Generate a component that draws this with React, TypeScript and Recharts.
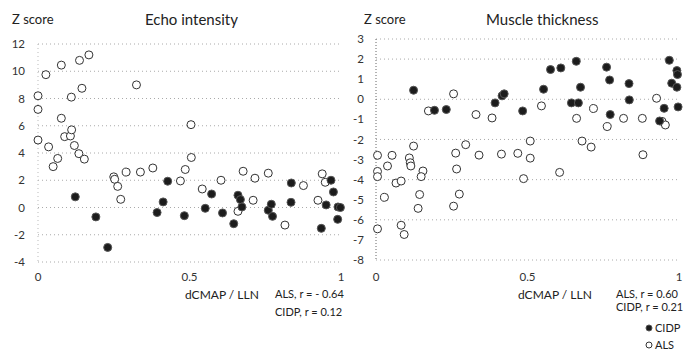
import { CartesianGrid, Scatter, ScatterChart, XAxis, YAxis } from "recharts";

// dCMAP / LLN vs Z score
const echoALS: [number, number][] = [
  [0.0, 8.2], [0.0, 7.2], [0.0, 4.95], [0.026, 9.75], [0.035, 4.45], [0.05, 3.0],
  [0.065, 3.6], [0.077, 10.45], [0.077, 6.55], [0.088, 5.2], [0.107, 5.25], [0.111, 5.7],
  [0.11, 8.1], [0.12, 4.55], [0.135, 3.95], [0.153, 3.55], [0.137, 10.8], [0.145, 8.75],
  [0.168, 11.2], [0.325, 9.0], [0.25, 2.25], [0.253, 2.07], [0.263, 1.55], [0.273, 0.6],
  [0.291, 2.6], [0.338, 2.6], [0.379, 2.9], [0.47, 1.95], [0.505, 6.08], [0.506, 3.67],
  [0.486, 2.79], [0.542, 1.36], [0.604, 2.0], [0.677, 2.66], [0.716, 2.15], [0.76, 2.52],
  [0.71, 0.53], [0.66, -0.28], [0.815, -1.29], [0.876, 1.61], [0.938, 2.47], [0.948, 1.85],
  [0.924, 0.53],
];

const echoCIDP: [number, number][] = [
  [0.123, 0.78], [0.191, -0.69], [0.23, -2.93], [0.393, -0.37], [0.413, 0.41], [0.428, 1.93],
  [0.483, -0.6], [0.552, -0.06], [0.573, 0.99], [0.609, -0.4], [0.646, -1.19], [0.66, 0.9],
  [0.668, 0.58], [0.673, 0.04], [0.76, -0.2], [0.77, 0.24], [0.774, -0.65], [0.836, 1.8],
  [0.835, 0.38], [0.935, -1.53], [0.951, 0.19], [0.967, 2.0], [0.975, 1.14], [0.99, 0.04],
  [0.989, -0.87], [0.998, 0.0],
];

const thickALS: [number, number][] = [
  [0.005, -2.79], [0.005, -3.59], [0.005, -3.85], [0.005, -6.45], [0.038, -3.32], [0.028, -4.88],
  [0.053, -2.79], [0.066, -4.17], [0.083, -4.07], [0.083, -6.27], [0.093, -6.73], [0.11, -2.92],
  [0.113, -3.16], [0.115, -3.32], [0.124, -2.33], [0.155, -3.57], [0.149, -3.85], [0.144, -4.74],
  [0.139, -5.43], [0.173, -0.58], [0.256, 0.27], [0.263, -2.68], [0.266, -3.47], [0.275, -4.72],
  [0.256, -5.32], [0.296, -2.26], [0.33, -0.76], [0.34, -2.78], [0.383, -0.93], [0.414, -2.73],
  [0.468, -2.69], [0.487, -3.95], [0.509, -2.08], [0.509, -2.93], [0.546, -0.33], [0.606, -3.64],
  [0.662, -0.95], [0.68, -2.08], [0.71, -2.38], [0.718, -0.46], [0.763, -1.36], [0.817, -0.95],
  [0.879, -0.95], [0.881, -2.76], [0.926, 0.05], [0.944, -1.1], [0.955, -1.28],
];

const thickCIDP: [number, number][] = [
  [0.124, 0.45], [0.193, -0.55], [0.232, -0.51], [0.393, -0.18], [0.416, 0.17], [0.423, 0.27],
  [0.484, -0.58], [0.553, 0.5], [0.576, 1.48], [0.61, 1.56], [0.645, -0.18], [0.668, -0.18],
  [0.661, 1.89], [0.675, 0.6], [0.761, 1.6], [0.771, 0.96], [0.773, -0.76], [0.835, 0.78],
  [0.836, -0.03], [0.936, -1.08], [0.951, -0.45], [0.968, 1.94], [0.976, 0.8], [0.993, 0.6],
  [0.993, 1.43], [0.995, 1.23], [0.997, -0.38],
];

const xTicks = [0, 0.5, 1];
const echoTicks = [-4, -2, 0, 2, 4, 6, 8, 10, 12];
const thickTicks = [3, 2, 1, 0, -1, -2, -3, -4, -5, -6, -7, -8];

const FONT = "Lato, 'Open Sans', sans-serif";
const tickStyle = { fontSize: 11.5, fill: "#333", fontFamily: FONT };

const toPoints = (arr: [number, number][]) => arr.map(([x, y]) => ({ x, y }));

const openDot = (p: any) => (
  <circle cx={p.cx} cy={p.cy} r={4} fill="#fff" stroke="#333" strokeWidth={1} />
);
const filledDot = (p: any) => (
  <circle cx={p.cx} cy={p.cy} r={4} fill="#1c1c1c" stroke="#555" strokeWidth={1} />
);

const txt = (left: number, top: number, size: number, content: string) => (
  <div
    style={{
      position: "absolute",
      left,
      top,
      fontSize: size,
      lineHeight: 1,
      color: "#222",
      fontFamily: FONT,
      whiteSpace: "nowrap",
    }}
  >
    {content}
  </div>
);

export default function App() {
  return (
    <div
      style={{
        position: "absolute",
        left: 0,
        top: 0,
        width: 687,
        height: 355,
        background: "#fff",
        overflow: "hidden",
      }}
    >
      <div style={{ position: "absolute", left: 0, top: 0 }}>
        <ScatterChart width={350} height={292} margin={{ top: 44, right: 9, bottom: 0, left: 0 }}>
          <CartesianGrid vertical={false} stroke="#aaa" strokeDasharray="1 3" />
          <XAxis
            type="number"
            dataKey="x"
            domain={[0, 1]}
            ticks={xTicks}
            tick={tickStyle}
            axisLine={false}
            tickLine={false}
            tickSize={6}
            tickMargin={5}
            height={30}
          />
          <YAxis
            type="number"
            dataKey="y"
            domain={[-4, 12]}
            ticks={echoTicks}
            tick={tickStyle}
            axisLine={{ stroke: "#bbb", strokeDasharray: "1 3" }}
            tickLine={false}
            tickSize={6}
            tickMargin={7}
            width={38}
          />
          <Scatter data={toPoints(echoALS)} shape={openDot} isAnimationActive={false} />
          <Scatter data={toPoints(echoCIDP)} shape={filledDot} isAnimationActive={false} />
        </ScatterChart>
      </div>

      <div style={{ position: "absolute", left: 340, top: 0 }}>
        <ScatterChart width={347} height={290} margin={{ top: 39, right: 8, bottom: 0, left: 0 }}>
          <CartesianGrid vertical={false} stroke="#aaa" strokeDasharray="1 3" />
          <XAxis
            type="number"
            dataKey="x"
            domain={[0, 1]}
            ticks={xTicks}
            tick={tickStyle}
            axisLine={false}
            tickLine={false}
            tickSize={6}
            tickMargin={7}
            height={30}
          />
          <YAxis
            type="number"
            dataKey="y"
            domain={[-8, 3]}
            ticks={thickTicks}
            tick={tickStyle}
            axisLine={{ stroke: "#666", strokeDasharray: "1 2" }}
            tickLine={false}
            tickSize={6}
            tickMargin={6}
            width={36}
          />
          <Scatter data={toPoints(thickALS)} shape={openDot} isAnimationActive={false} />
          <Scatter data={toPoints(thickCIDP)} shape={filledDot} isAnimationActive={false} />
        </ScatterChart>
      </div>

      {txt(12, 13, 13, "Z score")}
      {txt(145, 12, 15, "Echo intensity")}
      {txt(185, 289, 12, "dCMAP / LLN")}
      {txt(275, 288, 11, "ALS, r = - 0.64")}
      {txt(275, 306, 11, "CIDP, r = 0.12")}

      {txt(364, 13, 13, "Z score")}
      {txt(486, 12, 15, "Muscle thickness")}
      {txt(518, 289, 12, "dCMAP / LLN")}
      {txt(616, 288, 11, "ALS, r = 0.60")}
      {txt(616, 301, 11, "CIDP, r =  0.21")}

      <svg style={{ position: "absolute", left: 644, top: 320 }} width={12} height={32}>
        <circle cx={5} cy={8} r={3} fill="#1c1c1c" stroke="#555" />
        <circle cx={5} cy={25} r={3} fill="#fff" stroke="#333" />
      </svg>
      {txt(655, 322, 11, "CIDP")}
      {txt(655, 339, 11, "ALS")}
    </div>
  );
}
